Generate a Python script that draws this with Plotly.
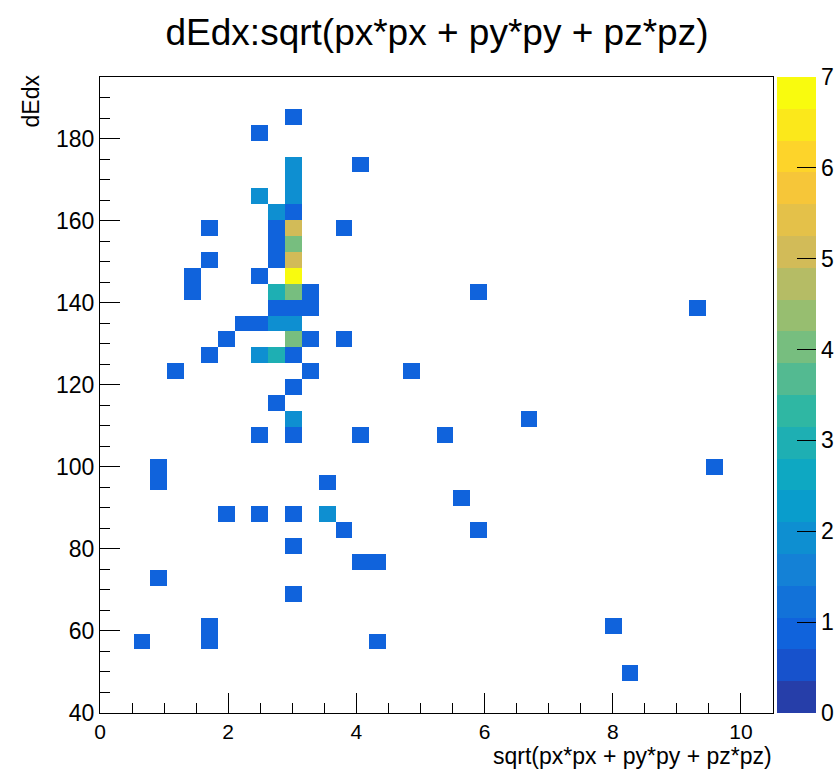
import plotly.graph_objects as go

# ---- histogram definition (TTree::Draw "dEdx:sqrt(px*px+py*py+pz*pz)", COLZ) ----
x_min, x_max, n_x = 0.0, 10.5, 40
y_min, y_max, n_y = 40.0, 195.0, 40

# filled bins: x-bin index, y-bin index, entries
bin_ix = [11, 9, 11, 11, 11, 15, 9, 10, 11, 6, 10, 11, 14, 10, 11, 6, 10, 11,
          5, 9, 11, 5, 10, 11, 12, 22, 10, 11, 12, 35, 8, 9, 10, 11, 7, 11, 12, 14,
          6, 9, 10, 11, 4, 12, 18, 11, 10, 11, 25, 9, 11, 15, 20, 3, 36, 3, 13,
          21, 7, 9, 11, 13, 14, 22, 11, 15, 16, 3, 11, 6, 30, 2, 6, 16, 31]
bin_iy = [37, 36, 34, 33, 32, 34, 32, 31, 31, 30, 30, 30, 30, 29, 29, 28, 28, 28,
          27, 27, 27, 26, 26, 26, 26, 26, 25, 25, 25, 25, 24, 24, 24, 24, 23, 23, 23, 23,
          22, 22, 22, 22, 21, 21, 21, 20, 19, 18, 18, 17, 17, 17, 17, 15, 15, 14, 14,
          13, 12, 12, 12, 12, 11, 11, 10, 9, 9, 8, 7, 5, 5, 4, 4, 4, 2]
bin_count = [1, 1, 2, 2, 2, 1, 2, 2, 1, 1, 1, 5, 1, 1, 4, 1, 1, 5,
             1, 1, 7, 1, 3, 4, 1, 1, 1, 1, 1, 1, 1, 1, 2, 2, 1, 4, 1, 1,
             1, 2, 3, 1, 1, 1, 1, 1, 1, 2, 1, 1, 1, 1, 1, 1, 1, 1, 1,
             1, 1, 1, 1, 2, 1, 1, 1, 1, 1, 1, 1, 1, 1, 1, 1, 1, 1]

z_min, z_max = 0, 7
colorbar_ticks = [0, 1, 2, 3, 4, 5, 6, 7]

# ---- build the bin content matrix (empty bins stay blank) ----
dx = (x_max - x_min) / n_x
dy = (y_max - y_min) / n_y
z = [[None] * n_x for _ in range(n_y)]
for ix, iy, c in zip(bin_ix, bin_iy, bin_count):
    z[iy][ix] = c

# ---- ROOT kBird palette with 20 contour levels ----
stops = [0.0, 0.125, 0.25, 0.375, 0.5, 0.625, 0.75, 0.875, 1.0]
red = [0.2082, 0.0592, 0.0780, 0.0232, 0.1802, 0.5301, 0.8186, 0.9956, 0.9764]
green = [0.1664, 0.3599, 0.5041, 0.6419, 0.7178, 0.7492, 0.7328, 0.7862, 0.9832]
blue = [0.5293, 0.8684, 0.8385, 0.7914, 0.6425, 0.4662, 0.3499, 0.1968, 0.0539]


def bird(t):
    t = min(max(t, 0.0), 1.0)
    for k in range(len(stops) - 1):
        if stops[k] <= t <= stops[k + 1]:
            f = (t - stops[k]) / (stops[k + 1] - stops[k])
            r = red[k] + f * (red[k + 1] - red[k])
            g = green[k] + f * (green[k + 1] - green[k])
            b = blue[k] + f * (blue[k + 1] - blue[k])
            return "rgb(%d,%d,%d)" % (round(r * 255), round(g * 255), round(b * 255))
    return "rgb(0,0,0)"


n_cont = 20
colorscale = []
for i in range(n_cont):
    col = bird((i + 0.99) / 19.92)
    colorscale.append([i / n_cont, col])
    colorscale.append([(i + 1) / n_cont, col])

font_family = "Liberation Sans, Arial, Helvetica, sans-serif"

fig = go.Figure(
    go.Heatmap(
        z=z,
        x0=x_min + dx / 2, dx=dx,
        y0=y_min + dy / 2, dy=dy,
        zmin=z_min, zmax=z_max,
        colorscale=colorscale,
        hoverongaps=False,
        xgap=0, ygap=0,
        colorbar=dict(
            x=1.0055, xanchor="left", xpad=0,
            y=0.5, yanchor="middle", ypad=0,
            len=1.0, lenmode="fraction",
            thickness=39,
            outlinewidth=0,
            tickmode="array", tickvals=colorbar_ticks,
            ticks="inside", ticklen=19, tickcolor="black",
            tickfont=dict(family=font_family, size=23, color="black"),
        ),
    )
)

fig.update_layout(
    width=834, height=771,
    margin=dict(l=100, r=61, t=77, b=58, autoexpand=False),
    paper_bgcolor="white", plot_bgcolor="white",
    showlegend=False,
    title=dict(
        text="dEdx:sqrt(px*px + py*py + pz*pz)",
        x=437 / 834, xanchor="center",
        y=1 - 32 / 771, yanchor="middle",
        font=dict(family=font_family, size=37, color="black"),
    ),
    font=dict(family=font_family, color="black"),
)

fig.update_xaxes(
    range=[x_min, x_max],
    showgrid=False, zeroline=False,
    showline=True, linecolor="black", linewidth=1, mirror=True,
    dtick=2, tick0=0,
    ticks="inside", ticklen=20, tickcolor="black",
    minor=dict(dtick=0.5, ticks="inside", ticklen=10, tickcolor="black", showgrid=False),
    tickfont=dict(family=font_family, size=21, color="black"),
)
fig.update_yaxes(
    range=[y_min, y_max],
    showgrid=False, zeroline=False,
    showline=True, linecolor="black", linewidth=1, mirror=True,
    dtick=20, tick0=0,
    ticks="inside", ticklen=20, tickcolor="black",
    minor=dict(dtick=5, ticks="inside", ticklen=10, tickcolor="black", showgrid=False),
    tickfont=dict(family=font_family, size=23, color="black"),
)

fig.add_annotation(
    text="sqrt(px*px + py*py + pz*pz)",
    xref="paper", yref="paper", x=1.0, y=0,
    xanchor="right", yanchor="bottom", yshift=-(769 - 712),
    showarrow=False, borderpad=0,
    font=dict(family=font_family, size=23, color="black"),
)
fig.add_annotation(
    text="dEdx",
    xref="paper", yref="paper", x=0, y=1.0,
    xanchor="center", yanchor="top", xshift=-(100 - 30), yshift=4,
    textangle=-90,
    showarrow=False,
    font=dict(family=font_family, size=23, color="black"),
)

fig.write_html("out.html")
